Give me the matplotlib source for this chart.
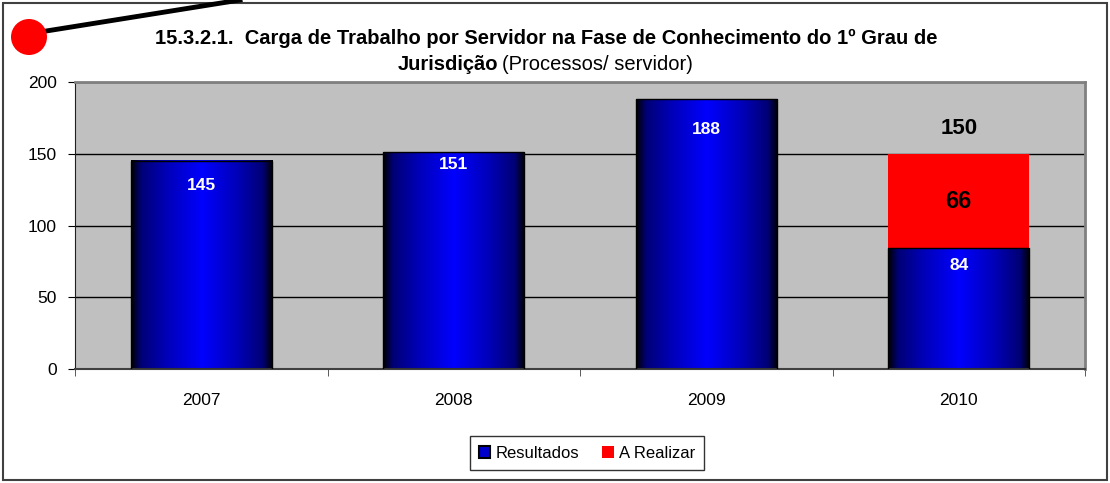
import numpy as np
import matplotlib
matplotlib.use("Agg")
import matplotlib.pyplot as plt
from matplotlib.colors import LinearSegmentedColormap
from matplotlib.patches import Rectangle, Circle
from matplotlib.lines import Line2D

plt.rcParams['font.family'] = ['Liberation Sans', 'DejaVu Sans']

anos = ['2007', '2008', '2009', '2010']
resultados = [145, 151, 188, 84]
a_realizar = [0, 0, 0, 66]
meta_2010 = 150
# vertical offset of the white labels below each bar top (points)
lbl_off = [-18, -9, -22, -12]

fig = plt.figure(figsize=(11.1, 4.83), dpi=100)
ax = fig.add_axes([75/1110, 114/483, 1010/1110, 287/483])
ax.set_facecolor('#C0C0C0')

x = np.arange(len(anos))
w = 0.56

# horizontal gradient for the blue bars
cm = LinearSegmentedColormap.from_list('cyl', [(0, '#000000'), (0.07, '#000075'), (0.25, '#0000B8'),
                                               (0.5, '#0000FF'), (0.75, '#0000B8'), (0.93, '#000075'),
                                               (1, '#000000')])
grad = np.linspace(0, 1, 256).reshape(1, -1)
for xi, v in zip(x, resultados):
    ax.imshow(grad, cmap=cm, aspect='auto', extent=(xi - w/2, xi + w/2, 0, v), zorder=2)
    ax.add_patch(Rectangle((xi - w/2, 0), w, v, fill=False, edgecolor='black', lw=1, zorder=3))

ax.bar(x, a_realizar, w, bottom=resultados, color='#FF0000', zorder=2)

for xi, v, off in zip(x, resultados, lbl_off):
    ax.annotate(str(v), (xi, v), xytext=(0, off), textcoords='offset points',
                ha='center', va='center', color='white', fontweight='bold', fontsize=12.5, zorder=4)
ax.text(x[3], resultados[3] + a_realizar[3] / 2, str(a_realizar[3]), ha='center', va='center',
        fontsize=17, fontweight='bold', zorder=4)
ax.annotate(str(meta_2010), (x[3], meta_2010), xytext=(0, 18), textcoords='offset points',
            ha='center', va='center', fontsize=16, fontweight='bold')

ax.set_xlim(-0.5, len(anos) - 0.5)
ax.set_ylim(0, 200)
ax.set_yticks([0, 50, 100, 150, 200])
ax.yaxis.grid(True, color='black', lw=1)
ax.set_axisbelow(True)
ax.set_xticks(x)
ax.set_xticklabels(anos)
ax.set_xticks(np.arange(-0.5, len(anos)), minor=True)
ax.tick_params(axis='x', which='major', length=0, pad=17, labelsize=12.5)
ax.tick_params(axis='x', which='minor', length=5, color='#404040')
ax.tick_params(axis='y', length=5, pad=8, labelsize=12.5)
for s in ['top', 'right']:
    ax.spines[s].set_color('#808080')
    ax.spines[s].set_linewidth(2)
ax.spines['left'].set_color('#202020')
ax.spines['bottom'].set_color('#404040')
ax.spines['bottom'].set_linewidth(1.5)

# title
fig.text(546/1110, 1 - 38/483, '15.3.2.1.  Carga de Trabalho por Servidor na Fase de Conhecimento do 1º Grau de',
         ha='center', va='center', fontsize=14.5, fontweight='bold')
fig.text(498/1110, 1 - 65/483, 'Jurisdição', ha='right', va='center', fontsize=14.5, fontweight='bold')
fig.text(502/1110, 1 - 65/483, '(Processos/ servidor)', ha='left', va='center', fontsize=14.5)

# legend
h1 = Rectangle((0, 0), 1, 1, facecolor='#0000CC', edgecolor='black', lw=1.5)
h2 = Rectangle((0, 0), 1, 1, facecolor='#FF0000', edgecolor='none')
leg = fig.legend([h1, h2], ['Resultados', 'A Realizar'], loc='center',
                 bbox_to_anchor=(587/1110, 1 - 453/483), ncol=2, fontsize=12,
                 frameon=True, fancybox=False, edgecolor='black', handlelength=0.7,
                 handleheight=0.7, handletextpad=0.3, columnspacing=1.4, borderpad=0.55)
leg.get_frame().set_linewidth(1)

# outer border, red marker and pointer line
fig.patches.append(Rectangle((3/1110, 3/483), 1104/1110, 477/483, transform=fig.transFigure,
                             fill=False, edgecolor='#404040', lw=1.5))
fig.lines.append(Line2D([40/1110, 240/1110], [1 - 32/483, 1.0], transform=fig.transFigure,
                        color='black', lw=3.5))
fig.patches.append(Circle((0.29, 4.83 - 0.37), 0.18, transform=fig.dpi_scale_trans,
                          facecolor='#FF0000', edgecolor='none', zorder=5))

fig.savefig('out.png', dpi=100)
